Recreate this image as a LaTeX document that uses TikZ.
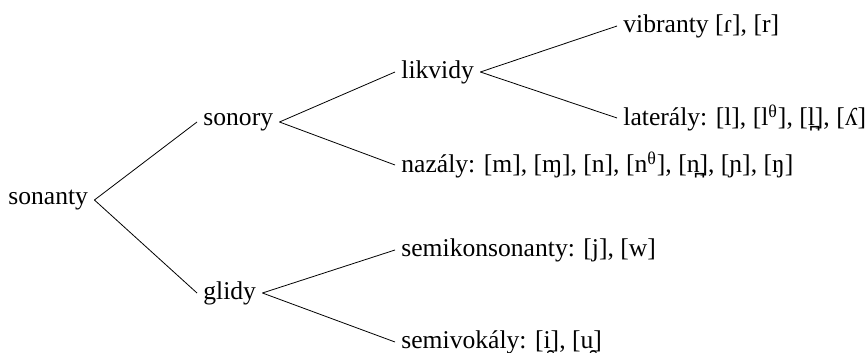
\documentclass[tikz,border=0pt]{standalone}
\usepackage{fontspec}
\setmainfont{Liberation Serif}
\usepackage{tikz}
\usetikzlibrary{calc}
\tikzset{item/.style={anchor=west, inner xsep=3pt, inner ysep=1pt, font=\fontsize{12.8}{15}\selectfont}}

\begin{document}
\begin{tikzpicture}[x=0.5pt, y=-0.5pt]
      \useasboundingbox (0,0) rectangle (868,353); %page size

      %LEVEL 1
      \node[item] (sonanty) at (2,200) {sonanty};

      %LEVEL 2
      \node[item] (sonory) at (197,122) {sonory};
      \node[item] (glidy) at (197,293) {glidy};

      %LEVEL 3
      \node[item] (likvidy) at (395,72) {likvidy};
      \node[item] (nazaly) at (395,165) {nazály: [m], [ɱ], [n], [n\textsuperscript{θ}], [n̪], [ɲ], [ŋ]};
      \node[item] (semikons) at (395,250) {semikonsonanty: [j], [w]};
      \node[item] (semivok) at (395,342) {semivokály: [i̯], [u̯]};

      %LEVEL 4
      \node[item] (vibranty) at (617,26) {vibranty [ɾ], [r]};
      \node[item] (lateraly) at (617,118) {laterály: [l], [l\textsuperscript{θ}], [l̪], [ʎ]};

      %draw branches
      \draw (sonanty.east) -- (sonory.west);
      \draw (sonanty.east) -- (glidy.west);
      \draw (sonory.east) -- (likvidy.west);
      \draw (sonory.east) -- (nazaly.west);
      \draw (glidy.east) -- (semikons.west);
      \draw (glidy.east) -- (semivok.west);
      \draw (likvidy.east) -- (vibranty.west);
      \draw (likvidy.east) -- (lateraly.west);
\end{tikzpicture}
\end{document}
